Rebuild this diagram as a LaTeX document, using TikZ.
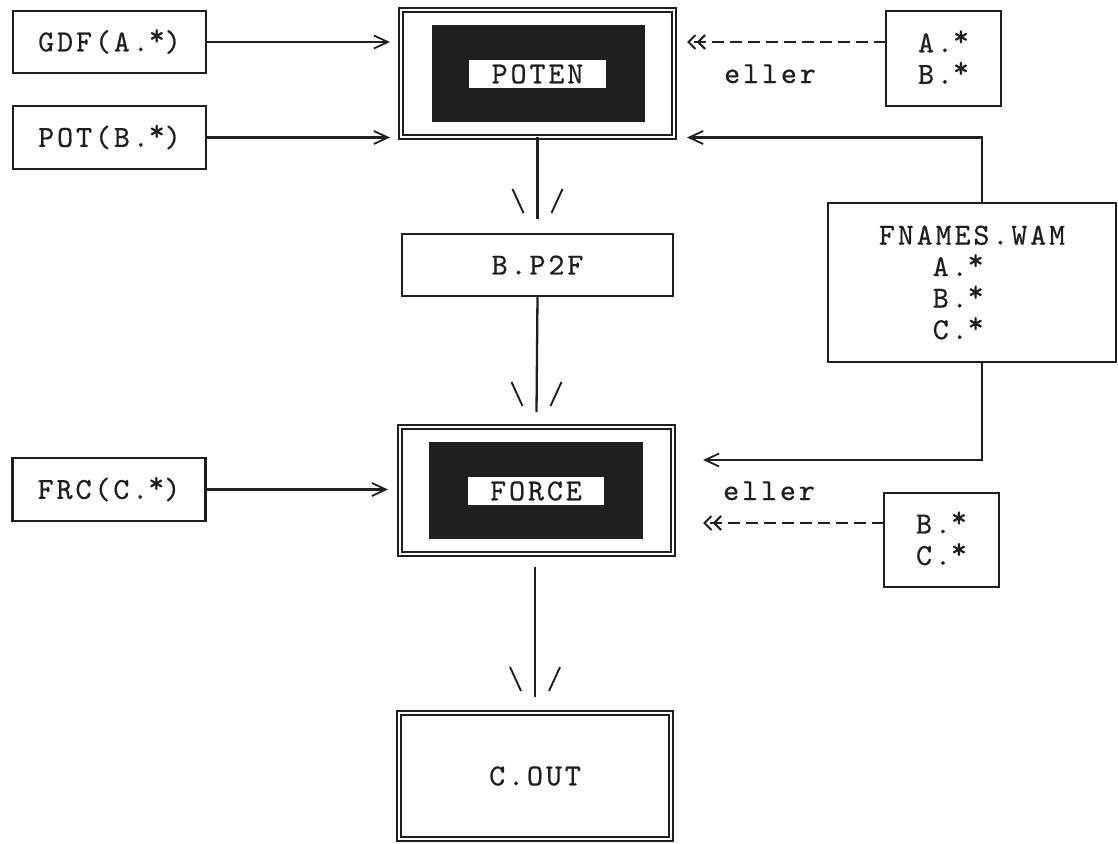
\documentclass[tikz,border=0pt]{standalone}
\usepackage{fontspec}
\newfontfamily\cour[LetterSpace=9.5,FakeBold=0.6]{lmmono10-regular.otf}
\usetikzlibrary{arrows.meta,calc}
\definecolor{ink}{gray}{0.12}
\newcommand{\txt}{\cour\fontsize{30.5}{31.5}\selectfont}
\newcommand{\as}{\smash{\raisebox{0.2em}{*}}}
\begin{document}
\begin{tikzpicture}[x=1pt,y=-1pt,
  box/.style={draw=ink, line width=2.3pt, inner sep=0pt, outer sep=0pt, font=\txt, align=center, text=ink},
  dbox/.style={box, line width=2pt, double=white, double distance=2.5pt},
  blk/.style={fill=ink, draw=none, inner sep=0pt},
  lbl/.style={fill=white, draw=none, inner sep=0pt, font=\txt, text=ink},
  plain/.style={font=\txt, text=ink, inner sep=0pt},
  conn/.style={draw=ink, line width=2.3pt},
  arr/.style={conn, -{Straight Barb[length=14pt,width=13pt,line width=1.8pt]}},
  darr/.style={conn, dash pattern=on 12pt off 6pt,
    -{Straight Barb[length=7pt,width=14pt,line width=2.1pt]Straight Barb[length=7pt,width=14pt,line width=2.1pt]}},
  vhead/.pic={\draw[ink, line width=1.9pt] (-25,-30) -- (-14,-6) (25,-30) -- (14,-6);}
]
\useasboundingbox (0,0) rectangle (1118,843);

% left inputs
\node[box, minimum width=193pt, minimum height=62pt] (gdf) at (109.5,42) {GDF(A.\as)};
\node[box, minimum width=193pt, minimum height=63pt] (pot) at (109.5,137.5) {POT(B.\as)};
\node[box, minimum width=193pt, minimum height=63pt] (frc) at (109,489.5) {FRC(C.\as)};

% POTEN
\node[dbox, minimum width=273pt, minimum height=127pt] (poten) at (537.5,73.5) {};
\node[blk, minimum width=213pt, minimum height=97pt] (potenb) at (538.5,73.5) {};
\node[lbl, minimum width=137pt, minimum height=28pt] (potenl) at (537.5,74) {POTEN};

% B.P2F
\node[box, minimum width=271pt, minimum height=62pt] (bp2f) at (537.5,265) {B.P2F};

% FORCE
\node[dbox, minimum width=273pt, minimum height=127pt] (force) at (536.5,490.5) {};
\node[blk, minimum width=214pt, minimum height=97pt] (forceb) at (536,490.5) {};
\node[lbl, minimum width=136pt, minimum height=28pt] (forcel) at (536,491) {FORCE};

% C.OUT
\node[dbox, minimum width=272pt, minimum height=126pt] (cout) at (535,776) {C.OUT};

% right side
\node[box, minimum width=115pt, minimum height=95pt] (ab) at (943.5,58.5) {A.\as\\B.\as};
\node[box, minimum width=115pt, minimum height=94pt] (bc) at (941.5,540) {B.\as\\C.\as};
\node[box, minimum width=288pt, minimum height=159pt, align=left] (fn) at (972,282.5)
  {FNAMES.WAM\\\hphantom{FNA}A.\as\\\hphantom{FNA}B.\as\\\hphantom{FNA}C.\as};

\node[plain, anchor=base] (e1) at (770,83) {eller};
\node[plain, anchor=base] (e2) at (769,500) {eller};

% connectors into POTEN
\draw[arr] (gdf.east) -- ($(poten.west |- gdf.east)+(-11,0)$);
\draw[arr] (pot.east) -- ($(poten.west |- pot.east)+(-11,0)$);
\draw[darr] ($(ab.west)+(0,-16.5)$) -- ($(poten.east |- ab.west)+(13,-16.5)$);
\draw[arr] ($(fn.north)+(10,0)$) |- ($(poten.east |- pot.east)+(13,0)$);

% connectors into FORCE
\draw[arr] (frc.east) -- ($(force.west |- frc.east)+(-12,0)$);
\draw[arr] ($(fn.south)+(10,0)$) |- ($(force.east)+(30,-30.5)$);
\draw[darr] ($(bc.west)+(0,-17)$) -- ($(force.east |- bc.west)+(30,-17)$);

% vertical flow
\draw[conn] (poten.south) -- ($(bp2f.north)+(0,-15)$) coordinate (h1);
\pic at (h1) {vhead};
\draw[conn] (bp2f.south) -- ($(force.north)+(0,-15)$) coordinate (h2);
\pic at (h2) {vhead};
\draw[conn] ($(cout.north |- force.south)+(0,13)$) -- ($(cout.north)+(0,-16)$) coordinate (h3);
\pic at (h3) {vhead};
\end{tikzpicture}
\end{document}
